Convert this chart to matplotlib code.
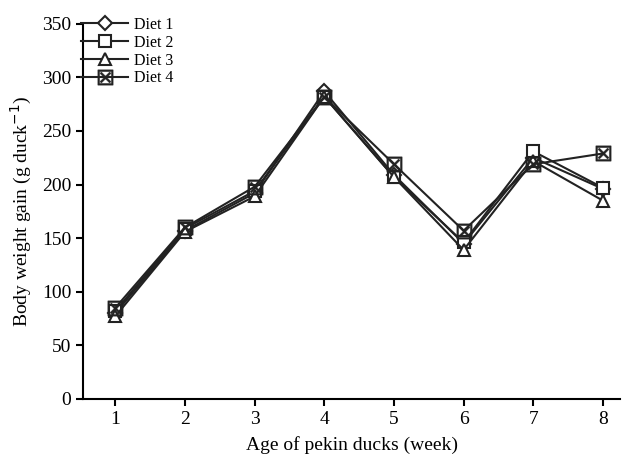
import matplotlib
matplotlib.use("Agg")
import matplotlib.pyplot as plt

plt.rcParams["font.family"] = "Liberation Serif"

# Body weight gain per week for each diet
weeks = [1, 2, 3, 4, 5, 6, 7, 8]
diet1 = [80, 157, 192, 287, 209, 145, 225, 196]
diet2 = [82, 159, 194, 282, 207, 146, 231, 197]
diet3 = [77, 156, 189, 282, 207, 139, 222, 185]
diet4 = [85, 160, 198, 282, 219, 157, 219, 229]

fig = plt.figure(figsize=(6.26, 4.58), dpi=100)
ax = fig.add_axes([0.133, 0.129, 0.858, 0.819])

line_kw = dict(color="#222222", lw=1.5, mfc="white", mew=1.5)
ax.plot(weeks, diet1, marker="D", ms=7.5, label="Diet 1", **line_kw)
ax.plot(weeks, diet2, marker="s", ms=9, label="Diet 2", **line_kw)
ax.plot(weeks, diet3, marker="^", ms=9, label="Diet 3", **line_kw)
ax.plot(weeks, diet4, marker="$\\boxtimes$", label="Diet 4",
        color="#222222", lw=1.5, ms=11, mew=0.3)

ax.set_xlim(0.54, 8.25)
ax.set_ylim(0, 350)
ax.set_xticks(weeks)
ax.set_yticks(range(0, 351, 50))
ax.spines["top"].set_visible(False)
ax.spines["right"].set_visible(False)
ax.spines["left"].set_linewidth(1.5)
ax.spines["bottom"].set_linewidth(1.5)
ax.tick_params(direction="out", width=1.5, length=5, labelsize=14)

ax.set_xlabel("Age of pekin ducks (week)", fontsize=14, labelpad=6)
ax.set_ylabel("Body weight gain (g duck$^{-1}$)", fontsize=14, labelpad=6)

ax.legend(loc="upper left", frameon=False, fontsize=11.5, handlelength=3.0,
          handletextpad=0.35, labelspacing=0.12, borderaxespad=0.0,
          borderpad=0.0, bbox_to_anchor=(-0.005, 1.019))

fig.savefig("out.png", dpi=100)
